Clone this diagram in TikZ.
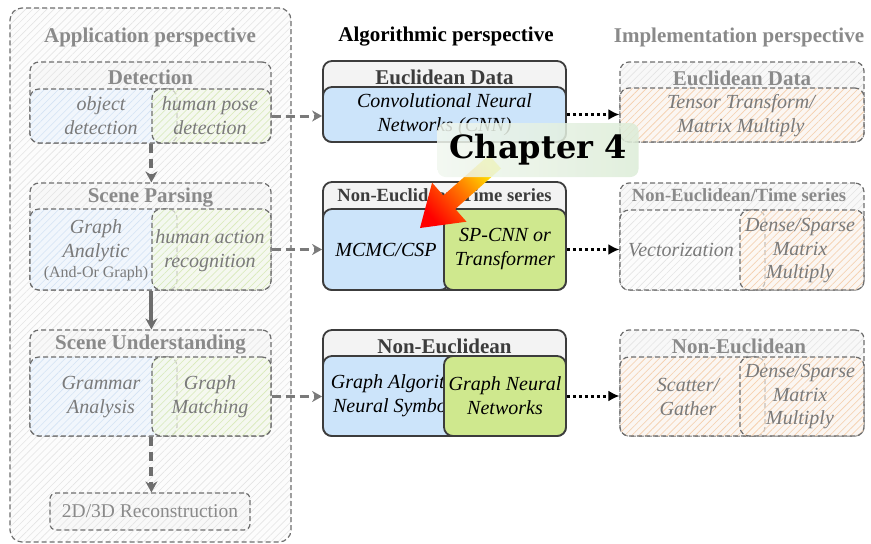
\documentclass[tikz,border=0pt]{standalone}
\usepackage{fontspec}
\setmainfont{Liberation Serif}[ItalicFont={Liberation Serif Italic},
  BoldFont={Liberation Serif Bold}, BoldItalicFont={Liberation Serif Bold Italic}]
\newfontfamily\chapfont{DejaVu Serif}
\usetikzlibrary{arrows.meta,patterns.meta}

\definecolor{dashc}{HTML}{6E6E6E}
\definecolor{headgray}{HTML}{8A8A8A}
\definecolor{textgray}{HTML}{7A7A7A}
\definecolor{midline}{HTML}{3C3C3C}
\definecolor{midhead}{HTML}{F3F3F3}
\definecolor{midblue}{HTML}{CCE4FA}
\definecolor{midgreen}{HTML}{CFE88E}
\definecolor{hgfill}{HTML}{FCFCFC}
\definecolor{hgline}{HTML}{E4E4E4}
\definecolor{hbfill}{HTML}{F1F6FC}
\definecolor{hbline}{HTML}{D4E3F4}
\definecolor{hgrfill}{HTML}{F5F9EC}
\definecolor{hgrline}{HTML}{D9EBB9}
\definecolor{hofill}{HTML}{FEF6EE}
\definecolor{holine}{HTML}{F7D0AD}
\definecolor{arrgray}{HTML}{7A7A7A}
\definecolor{chapA}{HTML}{F1F7EF}
\definecolor{chapB}{HTML}{DCECD7}

\tikzset{
  dashbox/.style={draw=dashc, line width=1.2pt, dash pattern=on 5pt off 3pt,
    rounded corners=9pt, inner sep=0pt},
  sizebox/.style 2 args={minimum width=#1pt, minimum height=#2pt},
  grayhatch/.style={preaction={fill=hgfill},
    pattern={Lines[angle=45,distance=5pt,line width=0.6pt]}, pattern color=hgline},
  headhatch/.style={preaction={fill=midhead!60!white},
    pattern={Lines[angle=45,distance=5pt,line width=0.6pt]}, pattern color=hgline},
  bluehatch/.style={preaction={fill=hbfill},
    pattern={Lines[angle=45,distance=5pt,line width=0.6pt]}, pattern color=hbline},
  greenhatch/.style={preaction={fill=hgrfill, fill opacity=0.7},
    pattern={Lines[angle=45,distance=5pt,line width=0.6pt]}, pattern color=hgrline},
  orangehatch/.style={preaction={fill=hofill, fill opacity=0.6},
    pattern={Lines[angle=45,distance=5pt,line width=0.6pt]}, pattern color=holine},
  solidbox/.style={draw=midline, line width=1.8pt, rounded corners=9pt, inner sep=0pt},
  bighead/.style={font=\fontsize{21}{25}\selectfont\bfseries},
  smallhead/.style={font=\fontsize{18.6}{22}\selectfont\bfseries},
  ittext/.style={font=\fontsize{20}{24}\selectfont\itshape, align=center},
  grayit/.style={ittext, text=textgray},
  appflow/.style={draw=arrgray!90!black, line width=4pt, -{Stealth[length=11pt,width=12pt]}},
  sideflow/.style={draw=arrgray, line width=3pt, dash pattern=on 9pt off 5pt,
    -{Stealth[length=10pt,width=11pt]}},
  implflow/.style={draw=black, line width=3pt, dash pattern=on 3pt off 3pt,
    -{Latex[length=11pt,width=11pt]}},
}

\begin{document}
\begin{tikzpicture}[x=1pt,y=-1pt]
\useasboundingbox (0,0) rectangle (871,544);

% ---------------- application column ----------------
\node[dashbox, rounded corners=12pt, grayhatch, sizebox={281}{534}] (appbox) at (150.5,275) {};
\node[bighead, text=headgray] (apptitle) at (150,37) {Application perspective};

% Detection
\node[dashbox, headhatch, sizebox={241}{81}] (det) at (150.5,102.5) {};
\node[bighead, text=headgray] (dettitle) at (150.5,77) {Detection};
\node[dashbox, bluehatch, sizebox={147}{54}] (detobj) at (103.5,116) {};
\node[dashbox, greenhatch, sizebox={119}{54}] (detpose) at (211.5,116) {};
\node[grayit] (detobjtxt) at (101,116) {object\\detection};
\node[grayit] (detposetxt) at (210,116) {human pose\\detection};

% Scene Parsing
\node[dashbox, headhatch, sizebox={241}{107}] (sp) at (150.5,236.5) {};
\node[bighead, text=headgray] (sptitle) at (150.5,198) {Scene Parsing};
\node[dashbox, bluehatch, sizebox={147}{81}] (spga) at (103.5,249.5) {};
\node[dashbox, greenhatch, sizebox={119}{81}] (spact) at (211.5,249.5) {};
\node[grayit] (spgatxt) at (96,240.5) {Graph\\Analytic};
\node[font=\fontsize{16}{18}\selectfont, text=textgray] (spgasub) at (96,274) {(And-Or Graph)};
\node[grayit] (spacttxt) at (210,250.5) {human action\\recognition};

% Scene Understanding
\node[dashbox, headhatch, sizebox={241}{106}] (su) at (150.5,383) {};
\node[bighead, text=headgray] (sutitle) at (150.5,345) {Scene Understanding};
\node[dashbox, bluehatch, sizebox={147}{79}] (sugr) at (103.5,396.5) {};
\node[dashbox, greenhatch, sizebox={119}{79}] (sumatch) at (211.5,396.5) {};
\node[grayit] (sugrtxt) at (101,397) {Grammar\\Analysis};
\node[grayit] (sumatchtxt) at (210,397) {Graph\\Matching};

% Reconstruction
\node[dashbox, rounded corners=6pt, headhatch, sizebox={200}{37},
  font=\fontsize{19.5}{22}\selectfont, text=headgray] (recon) at (150,511.5) {2D/3D Reconstruction};

% flow inside the application column
\draw[appflow, dash pattern=on 9pt off 6pt] (detpose.south west) -- (detpose.south west |- sp.north);
\draw[appflow] (spact.south west) -- (spact.south west |- su.north);
\draw[appflow, dash pattern=on 9pt off 6pt] (sumatch.south west) -- (sumatch.south west |- recon.north);

% ---------------- algorithmic column ----------------
\node[bighead, text=black] (algtitle) at (446,37) {Algorithmic perspective};

\node[solidbox, fill=midhead, sizebox={243}{81}] (euc) at (444.5,101.5) {};
\node[bighead, text=midline] (euctitle) at (444.5,77) {Euclidean Data};
\node[solidbox, fill=midblue, sizebox={243}{55}, ittext] (cnn) at (444.5,114.5)
  {Convolutional Neural\\Networks (CNN)};

\node[solidbox, fill=midhead, sizebox={243}{108}] (net) at (444.5,236) {};
\node[smallhead, text=midline] (nettitle) at (444.5,195) {Non-Euclidean/Time series};
\node[solidbox, fill=midblue, sizebox={126}{81}, ittext] (mcmc) at (386,249.5) {MCMC/CSP};
\node[solidbox, fill=midgreen, sizebox={122}{81}, ittext] (spcnn) at (505,249.5)
  {SP-CNN or\\Transformer};

\node[solidbox, fill=midhead, sizebox={243}{106}] (neu) at (444.5,383) {};
\node[bighead, text=midline] (neutitle) at (444.5,346) {Non-Euclidean};
\node[solidbox, fill=midblue, sizebox={154}{80}, ittext] (galg) at (400,396)
  {Graph Algorithm\\Neural Symbolic};
\node[solidbox, fill=midgreen, sizebox={122}{80}, ittext] (gnn) at (505,396)
  {Graph Neural\\Networks};

% ---------------- implementation column ----------------
\node[bighead, text=headgray] (impltitle) at (739,37) {Implementation perspective};

\node[dashbox, headhatch, sizebox={244}{80}] (ieuc) at (742,102) {};
\node[bighead, text=headgray] (ieuctitle) at (742,78) {Euclidean Data};
\node[dashbox, orangehatch, sizebox={244}{54}] (itensor) at (742,115) {};
\node[grayit] (itensortxt) at (741,116) {Tensor Transform/\\Matrix Multiply};

\node[dashbox, headhatch, sizebox={244}{107}] (inet) at (742,236.5) {};
\node[smallhead, text=headgray] (inettitle) at (739,195) {Non-Euclidean/Time series};
\node[dashbox, grayhatch, sizebox={145}{80}] (ivec) at (692.5,250) {};
\node[dashbox, orangehatch, sizebox={124}{80}] (idense) at (802,250) {};
\node[grayit] (ivectxt) at (681,250) {Vectorization};
\node[grayit, font=\fontsize{20}{23.5}\selectfont\itshape] (idensetxt) at (800,251) {Dense/Sparse\\Matrix\\Multiply};

\node[dashbox, headhatch, sizebox={244}{106}] (ineu) at (742,383) {};
\node[bighead, text=headgray] (ineutitle) at (739,346) {Non-Euclidean};
\node[dashbox, orangehatch, sizebox={145}{79}] (iscatter) at (692.5,396.5) {};
\node[dashbox, orangehatch, sizebox={124}{79}] (idenseb) at (802,396.5) {};
\node[grayit] (iscattertxt) at (688,397) {Scatter/\\Gather};
\node[grayit, font=\fontsize{20}{23.5}\selectfont\itshape] (idensebtxt) at (800,397) {Dense/Sparse\\Matrix\\Multiply};

% ---------------- connectors between columns ----------------
\draw[sideflow] (detpose.east) -- (cnn.west |- detpose.east);
\draw[sideflow] (spact.east) -- (mcmc.west |- spact.east);
\draw[sideflow] (sumatch.east) -- (galg.west |- sumatch.east);

\draw[implflow] (cnn.east) -- (itensor.west |- cnn.east);
\draw[implflow] (spcnn.east) -- (ivec.west |- spcnn.east);
\draw[implflow] (gnn.east) -- (iscatter.west |- gnn.east);

% ---------------- chapter pointer ----------------
\shade[top color=yellow!90!orange, bottom color=red, middle color=orange!90!red, shading angle=-49]
  (420,228) -- (432.1,182.7) -- (443.3,195.5) -- (489,155.1)
  -- (501,168.5) -- (455.3,209.0) -- (466.5,221.7) -- cycle;

\node[rounded corners=8pt, left color=chapA, right color=chapB, fill opacity=0.85,
  text opacity=1, minimum width=201pt, minimum height=54pt, inner sep=0pt,
  font=\chapfont\fontsize{32}{36}\selectfont\bfseries] (chap) at (538,150) {Chapter 4};
\end{tikzpicture}
\end{document}
